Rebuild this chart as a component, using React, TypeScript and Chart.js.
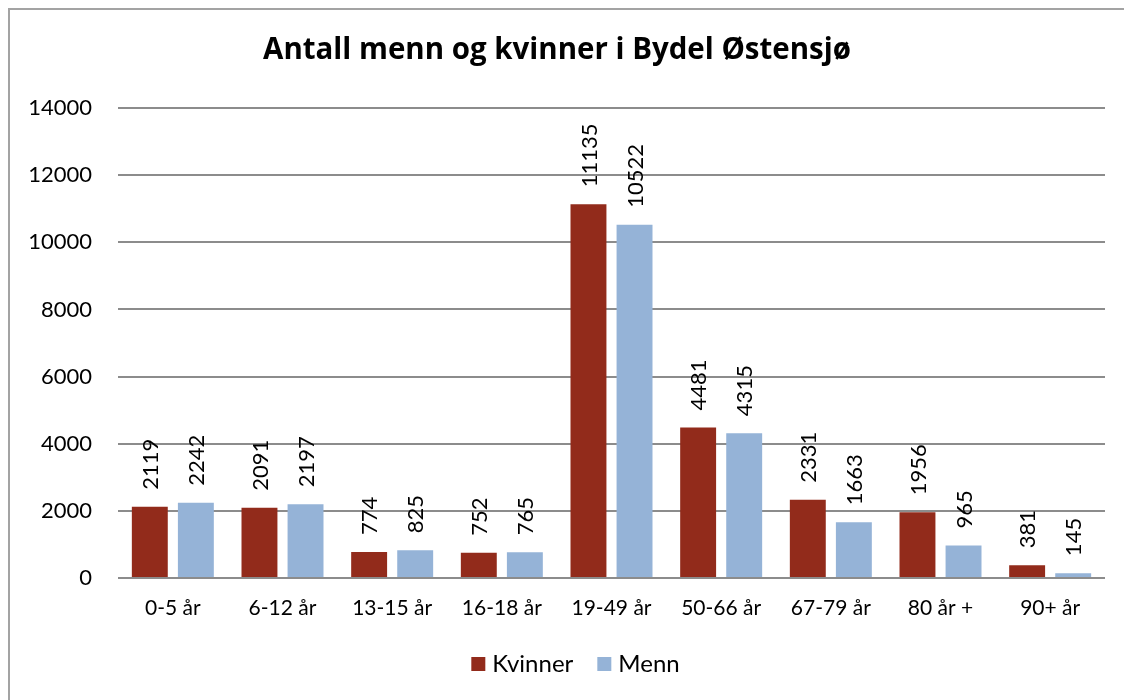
import { useEffect, useRef } from "react";
import { Chart, registerables } from "chart.js";

Chart.register(...registerables);

const titleText = "Antall menn og kvinner i Bydel Østensjø";
const categories = ["0-5 år", "6-12 år", "13-15 år", "16-18 år", "19-49 år", "50-66 år", "67-79 år", "80 år +", "90+ år"];
const seriesNames = ["Kvinner", "Menn"];
const kvinner = [2119, 2091, 774, 752, 11135, 4481, 2331, 1956, 381];
const menn = [2242, 2197, 825, 765, 10522, 4315, 1663, 965, 145];
const yMin = 0;
const yMax = 14000;
const yStep = 2000;
const colors = ["#922B1B", "#95B3D7"];

const FONT = "Lato, 'Open Sans', sans-serif";
const TITLE_FONT = "'Open Sans', Lato, sans-serif";

const decorPlugin = {
  id: "decor",
  afterDraw(chart: any) {
    const ctx = chart.ctx as CanvasRenderingContext2D;
    // title, fitted to the reference width
    ctx.save();
    ctx.fillStyle = "#000";
    ctx.font = `bold 100px ${TITLE_FONT}`;
    const w100 = ctx.measureText(titleText).width;
    const size = Math.min(30, (588 / w100) * 100);
    ctx.font = `bold ${size}px ${TITLE_FONT}`;
    ctx.textAlign = "center";
    ctx.textBaseline = "alphabetic";
    ctx.fillText(titleText, 547, 49);
    ctx.restore();

    // legend
    ctx.save();
    ctx.font = `24px ${FONT}`;
    ctx.textBaseline = "alphabetic";
    ctx.textAlign = "left";
    const box = 14, gapText = 7, gapItem = 24;
    const widths = seriesNames.map((n) => ctx.measureText(n).width);
    let total = 0;
    widths.forEach((tw, i) => {
      total += box + gapText + tw + (i < widths.length - 1 ? gapItem : 0);
    });
    let x = 565.5 - total / 2;
    seriesNames.forEach((n, i) => {
      ctx.fillStyle = colors[i];
      ctx.fillRect(x, 647, box, box);
      ctx.fillStyle = "#000";
      ctx.fillText(n, x + box + gapText, 662);
      x += box + gapText + widths[i] + gapItem;
    });
    ctx.restore();
  },
  afterDatasetsDraw(chart: any) {
    const ctx = chart.ctx as CanvasRenderingContext2D;
    ctx.save();
    ctx.font = `22px ${FONT}`;
    ctx.fillStyle = "#000";
    ctx.textAlign = "left";
    ctx.textBaseline = "middle";
    chart.data.datasets.forEach((ds: any, di: number) => {
      const meta = chart.getDatasetMeta(di);
      meta.data.forEach((bar: any, i: number) => {
        ctx.save();
        ctx.translate(bar.x, bar.y - 17);
        ctx.rotate(-Math.PI / 2);
        ctx.fillText(String(ds.data[i]), 0, 1);
        ctx.restore();
      });
    });
    ctx.restore();
  },
};

export default function App() {
  const ref = useRef<HTMLCanvasElement | null>(null);

  useEffect(() => {
    document.documentElement.style.overflow = "hidden";
    document.body.style.overflow = "hidden";
    if (!ref.current) return;
    const chart = new Chart(ref.current, {
      type: "bar",
      data: {
        labels: categories,
        datasets: [
          { label: seriesNames[0], data: kvinner, backgroundColor: colors[0] },
          { label: seriesNames[1], data: menn, backgroundColor: colors[1] },
        ],
      },
      options: {
        responsive: false,
        animation: false,
        devicePixelRatio: 1,
        layout: { padding: { top: 98, right: 19, bottom: 0, left: 0 } },
        datasets: { bar: { categoryPercentage: 0.84, barPercentage: 0.78 } },
        plugins: {
          legend: { display: false },
          title: { display: false },
          tooltip: { enabled: false },
        },
        scales: {
          x: {
            grid: { display: false, drawTicks: false },
            border: { display: false },
            ticks: { color: "#000", font: { family: FONT, size: 21 }, padding: 18, maxRotation: 0 },
            afterFit: (s: any) => {
              s.height = 122;
            },
          },
          y: {
            min: yMin,
            max: yMax,
            grid: { color: "#8c8c8c", lineWidth: 2, drawTicks: false },
            border: { display: false },
            ticks: {
              stepSize: yStep,
              color: "#000",
              font: { family: FONT, size: 22 },
              padding: 26,
              callback: (v: any) => String(v),
            },
            afterFit: (s: any) => {
              s.width = 108;
            },
          },
        },
      },
      plugins: [decorPlugin],
    });
    return () => chart.destroy();
  }, []);

  return (
    <div
      style={{
        position: "absolute",
        left: 8,
        top: 8,
        width: 1116,
        height: 692,
        borderLeft: "2px solid #a3a3a3",
        borderTop: "2px solid #a3a3a3",
        boxSizing: "border-box",
        background: "#fff",
      }}
    >
      <canvas ref={ref} width={1114} height={690} style={{ display: "block" }} />
    </div>
  );
}
